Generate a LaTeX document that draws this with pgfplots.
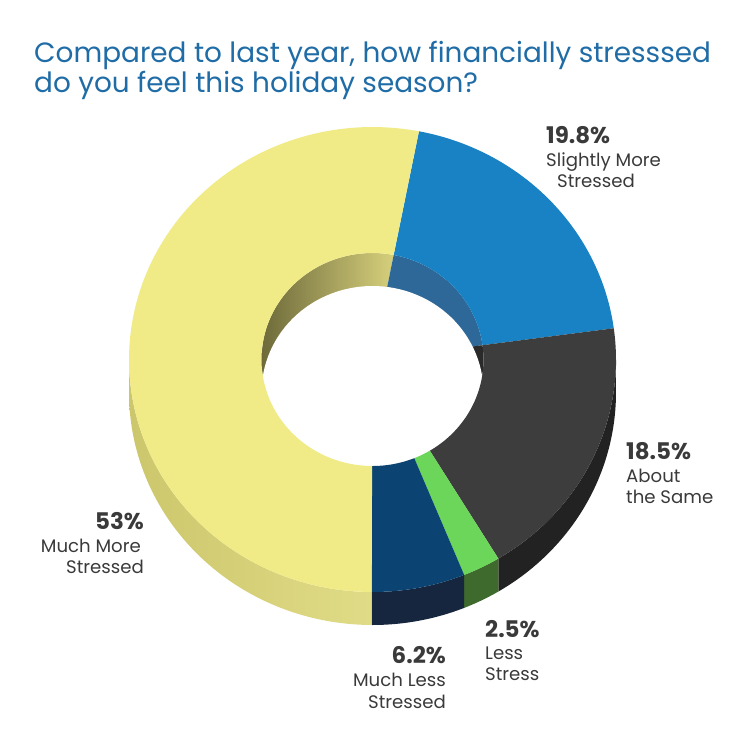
\documentclass[border=0pt]{standalone}
\usepackage{pgfplots}
\pgfplotsset{compat=1.18}
\usepackage{pgfplotstable}
\usepackage{fontspec}
\setmainfont{Poppins}

\definecolor{titleblue}{HTML}{1F6CA6}
\definecolor{labelgray}{HTML}{3A3A3A}
\definecolor{ytop}{HTML}{F0EB86}
\definecolor{ysideL}{HTML}{CCC76C}
\definecolor{ysideR}{HTML}{E0DB86}
\definecolor{ywallL}{HTML}{6E6A3A}
\definecolor{ywallR}{HTML}{D6D07C}
\definecolor{btop}{HTML}{1882C4}
\definecolor{bwall}{HTML}{2D6898}
\definecolor{gtop}{HTML}{3D3D3D}
\definecolor{gside}{HTML}{222222}
\definecolor{gwall}{HTML}{2A2A2A}
\definecolor{ltop}{HTML}{6CD65A}
\definecolor{lside}{HTML}{3E6A2D}
\definecolor{ntop}{HTML}{0B4472}
\definecolor{nside}{HTML}{15263E}

% share of answers, clockwise from the top
\pgfplotstableread{
idx value
0 19.8
1 18.5
2 2.5
3 6.2
4 53
}\slices

% ring geometry (drawing units, y pointing down)
\def\ringCX{372.5}
\def\ringCY{359.5}
\def\outRX{243.5}
\def\outRY{232.5}
\def\inRX{111}
\def\inRY{106.5}
\def\ringDepth{33}

% slice boundaries in degrees, clockwise from the start angle
\def\angO{79}%
\pgfplotstablegetelem{0}{value}\of\slices \pgfmathsetmacro\angA{\angO-3.6*\pgfplotsretval}%
\pgfplotstablegetelem{1}{value}\of\slices \pgfmathsetmacro\angB{\angA-3.6*\pgfplotsretval}%
\pgfplotstablegetelem{2}{value}\of\slices \pgfmathsetmacro\angC{\angB-3.6*\pgfplotsretval}%
\pgfplotstablegetelem{3}{value}\of\slices \pgfmathsetmacro\angD{\angC-3.6*\pgfplotsretval}%
\pgfplotstablegetelem{4}{value}\of\slices \pgfmathsetmacro\angE{\angD-3.6*\pgfplotsretval}%

% a closed piece: arc (a->b) on ellipse 1, then arc (b->a) on ellipse 2
\newcommand\piece[9]{%
  \addplot[#1, draw=none, samples at={0,1,...,201}, variable=\t]
  ({\t<100.5 ? \ringCX+#4*cos(#2+(#3-#2)*\t/100) : \ringCX+#7*cos(#3+(#2-#3)*(\t-101)/100)},
   {\t<100.5 ? \ringCY-#5*sin(#2+(#3-#2)*\t/100)+#6 : \ringCY-#8*sin(#3+(#2-#3)*(\t-101)/100)+#9});
}

\begin{document}%
\begin{tikzpicture}
\begin{axis}[
  at={(0,0)}, anchor=south west,
  width=750bp, height=750bp, scale only axis,
  xmin=0, xmax=750, ymin=0, ymax=750, y dir=reverse,
  hide axis, clip=false,
]
% outer side walls (front half only)
\piece{fill=gside}{0}{\angB}{\outRX}{\outRY}{0}{\outRX}{\outRY}{\ringDepth}
\piece{fill=lside}{\angB}{\angC}{\outRX}{\outRY}{0}{\outRX}{\outRY}{\ringDepth}
\piece{fill=nside}{\angC}{\angD}{\outRX}{\outRY}{0}{\outRX}{\outRY}{\ringDepth}
\piece{left color=ysideL, right color=ysideR}{\angD}{-180}{\outRX}{\outRY}{0}{\outRX}{\outRY}{\ringDepth}
% inner wall of the hole
\piece{left color=ywallL, right color=ywallR}{\angD}{\angE}{\inRX}{\inRY}{0}{0}{0}{0}
\piece{fill=bwall}{\angO}{\angA}{\inRX}{\inRY}{0}{0}{0}{0}
\piece{fill=gwall}{\angA}{\angB}{\inRX}{\inRY}{0}{0}{0}{0}
\addplot[fill=white, draw=none, domain=0:360, samples=120]
  ({\ringCX+\inRX*cos(x)},{\ringCY+\ringDepth-\inRY*sin(x)});
% top face
\piece{fill=btop}{\angO}{\angA}{\outRX}{\outRY}{0}{\inRX}{\inRY}{0}
\piece{fill=gtop}{\angA}{\angB}{\outRX}{\outRY}{0}{\inRX}{\inRY}{0}
\piece{fill=ltop}{\angB}{\angC}{\outRX}{\outRY}{0}{\inRX}{\inRY}{0}
\piece{fill=ntop}{\angC}{\angD}{\outRX}{\outRY}{0}{\inRX}{\inRY}{0}
\piece{fill=ytop}{\angD}{\angE}{\outRX}{\outRY}{0}{\inRX}{\inRY}{0}

% title
\node[inner sep=0pt, anchor=base west, text=titleblue, font=\fontsize{28}{30}\selectfont] at (axis cs:34,62) {Compared to last year, how financially stresssed};
\node[inner sep=0pt, anchor=base west, text=titleblue, font=\fontsize{28}{30}\selectfont] at (axis cs:34,92) {do you feel this holiday season?};

% slice labels
\def\pct{\fontsize{23}{26}\selectfont\bfseries}
\def\lab{\fontsize{18.2}{21}\selectfont}
\tikzset{lbl/.style={inner sep=0pt, text=labelgray}}
\node[lbl, anchor=base west, font=\pct] at (axis cs:546,143) {19.8\%};
\node[lbl, anchor=base west, font=\lab] at (axis cs:546,166) {Slightly More};
\node[lbl, anchor=base west, font=\lab] at (axis cs:557,187) {Stressed};

\node[lbl, anchor=base west, font=\pct] at (axis cs:626,459) {18.5\%};
\node[lbl, anchor=base west, font=\lab] at (axis cs:626,482) {About};
\node[lbl, anchor=base west, font=\lab] at (axis cs:626,503) {the Same};

\node[lbl, anchor=base east, font=\pct] at (axis cs:144,529) {53\%};
\node[lbl, anchor=base east, font=\lab] at (axis cs:141,552) {Much More};
\node[lbl, anchor=base east, font=\lab] at (axis cs:144,573) {Stressed};

\node[lbl, anchor=base east, font=\pct] at (axis cs:446,663) {6.2\%};
\node[lbl, anchor=base east, font=\lab] at (axis cs:446,686) {Much Less};
\node[lbl, anchor=base east, font=\lab] at (axis cs:446,708) {Stressed};

\node[lbl, anchor=base west, font=\pct] at (axis cs:485,637) {2.5\%};
\node[lbl, anchor=base west, font=\lab] at (axis cs:485,659) {Less};
\node[lbl, anchor=base west, font=\lab] at (axis cs:485,680) {Stress};
\end{axis}
\pgfresetboundingbox
\useasboundingbox (0,0) rectangle (750bp,750bp);
\end{tikzpicture}%
\end{document}
